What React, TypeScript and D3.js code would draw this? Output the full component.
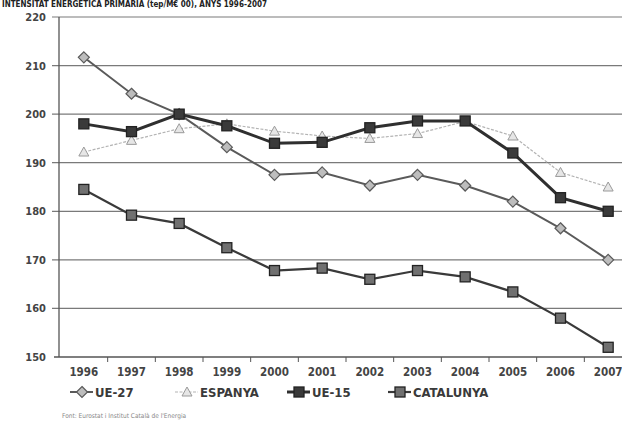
import React, { useRef, useEffect } from "react";
import * as d3 from "d3";

// years on the category axis
const years = ["1996", "1997", "1998", "1999", "2000", "2001", "2002", "2003", "2004", "2005", "2006", "2007"];

// series values (tep / M€)
const ue27 = [211.7, 204.2, 200, 193.2, 187.5, 188, 185.3, 187.5, 185.3, 182, 176.5, 170];
const espanya = [192.2, 194.6, 197, 198, 196.5, 195.5, 195, 196, 198.5, 195.5, 188, 185];
const ue15 = [198, 196.4, 200, 197.6, 194, 194.2, 197.2, 198.6, 198.6, 192, 182.8, 180];
const catalunya = [184.5, 179.2, 177.5, 172.5, 167.8, 168.3, 166, 167.8, 166.5, 163.4, 158, 152];

const yTicks = [150, 160, 170, 180, 190, 200, 210, 220];

const series = [
  { name: "UE-27", values: ue27, stroke: "#5a5a5a", width: 2, marker: "diamond", fill: "#bdbdbd" },
  { name: "ESPANYA", values: espanya, stroke: "#b4b4b4", width: 1.2, marker: "triangle", fill: "#e6e6e6" },
  { name: "UE-15", values: ue15, stroke: "#2f2f2f", width: 3, marker: "square", fill: "#3a3a3a" },
  { name: "CATALUNYA", values: catalunya, stroke: "#3a3a3a", width: 2.2, marker: "square", fill: "#707070" },
];

const W = 622;
const H = 424;

function drawMarker(g, type, x, y, fill, stroke) {
  if (type === "diamond") {
    g.append("path")
      .attr("d", `M${x},${y - 5.5}L${x + 5.5},${y}L${x},${y + 5.5}L${x - 5.5},${y}Z`)
      .attr("fill", fill).attr("stroke", stroke).attr("stroke-width", 1.2);
  } else if (type === "triangle") {
    g.append("path")
      .attr("d", `M${x},${y - 5}L${x + 5},${y + 4}L${x - 5},${y + 4}Z`)
      .attr("fill", fill).attr("stroke", "#9a9a9a").attr("stroke-width", 1);
  } else {
    g.append("rect")
      .attr("x", x - 5).attr("y", y - 5).attr("width", 10).attr("height", 10)
      .attr("fill", fill).attr("stroke", "#222").attr("stroke-width", 1.3);
  }
}

export default function App() {
  const ref = useRef(null);

  useEffect(() => {
    const svg = d3.select(ref.current).html("");
    const font = "'DejaVu Sans Condensed', 'DejaVu Sans', sans-serif";

    const x = d3.scaleBand().domain(years).range([60, 632]);
    const cx = (d) => x(d) + x.bandwidth() / 2;
    const y = d3.scaleLinear().domain([150, 220]).range([357, 17]);

    // title
    svg.append("text")
      .attr("x", 2).attr("y", 7)
      .attr("font-family", font).attr("font-weight", "bold").attr("font-size", 8)
      .attr("fill", "#222")
      .text("INTENSITAT ENERGÈTICA PRIMÀRIA (tep/M€ 00), ANYS 1996-2007");

    // gridlines
    svg.append("g").selectAll("line")
      .data(yTicks.filter((t) => t > 150))
      .join("line")
      .attr("x1", 52).attr("x2", W)
      .attr("y1", (d) => y(d)).attr("y2", (d) => y(d))
      .attr("stroke", "#7a7a7a").attr("stroke-width", 1.2);

    // y labels
    svg.append("g").selectAll("text")
      .data(yTicks)
      .join("text")
      .attr("x", 46).attr("y", (d) => y(d) + 4)
      .attr("text-anchor", "end")
      .attr("font-family", font).attr("font-weight", "bold").attr("font-size", 11)
      .attr("fill", "#444")
      .text((d) => d);

    // axes
    svg.append("line").attr("x1", 59).attr("x2", 59).attr("y1", 17).attr("y2", 357)
      .attr("stroke", "#555").attr("stroke-width", 1.3);
    svg.append("line").attr("x1", 54).attr("x2", W).attr("y1", 357).attr("y2", 357)
      .attr("stroke", "#555").attr("stroke-width", 1.3);
    svg.append("g").selectAll("line")
      .data(years.slice(1))
      .join("line")
      .attr("x1", (d) => x(d)).attr("x2", (d) => x(d))
      .attr("y1", 357).attr("y2", 362)
      .attr("stroke", "#555");

    svg.append("g").selectAll("text")
      .data(years)
      .join("text")
      .attr("x", cx).attr("y", 376)
      .attr("text-anchor", "middle")
      .attr("font-family", font).attr("font-weight", "bold").attr("font-size", 11.5)
      .attr("fill", "#444")
      .text((d) => d);

    // series lines and markers
    const line = d3.line().x((d, i) => cx(years[i])).y((d) => y(d));
    series.forEach((s) => {
      svg.append("path")
        .attr("d", line(s.values))
        .attr("fill", "none")
        .attr("stroke", s.stroke)
        .attr("stroke-width", s.width)
        .attr("stroke-dasharray", s.marker === "triangle" ? "3,1.5" : null);
    });
    series.forEach((s) => {
      const g = svg.append("g");
      s.values.forEach((v, i) => drawMarker(g, s.marker, cx(years[i]), y(v), s.fill, s.stroke));
    });

    // legend
    const legendX = [70, 175, 287, 388];
    series.forEach((s, i) => {
      const g = svg.append("g");
      const lx = legendX[i];
      g.append("line").attr("x1", lx).attr("x2", lx + 23).attr("y1", 392).attr("y2", 392)
        .attr("stroke", s.stroke).attr("stroke-width", s.width)
        .attr("stroke-dasharray", s.marker === "triangle" ? "3,1.5" : null);
      drawMarker(g, s.marker, lx + 12, 392, s.fill, s.stroke);
      g.append("text")
        .attr("x", lx + 25).attr("y", 397)
        .attr("font-family", font).attr("font-weight", "bold").attr("font-size", 13)
        .attr("fill", "#3a3a3a")
        .text(s.name);
    });

    // source
    svg.append("text")
      .attr("x", 62).attr("y", 418)
      .attr("font-family", font).attr("font-size", 6.5)
      .attr("fill", "#888")
      .text("Font: Eurostat i Institut Català de l'Energia");
  }, []);

  return (
    <svg ref={ref} width={W} height={H}
      style={{ position: "absolute", left: 0, top: 0, background: "#fff" }} />
  );
}
